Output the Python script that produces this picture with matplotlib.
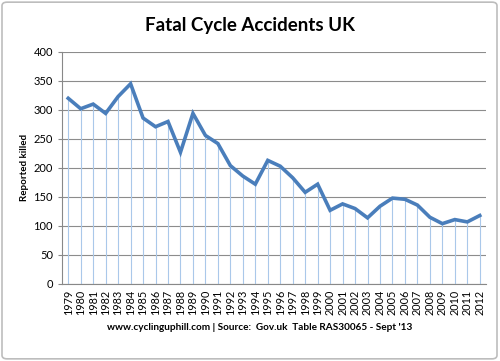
import matplotlib.pyplot as plt
from matplotlib.patches import FancyBboxPatch

years = list(range(1979, 2013))
killed = [320, 302, 310, 294, 323, 345, 286, 271, 280, 227, 294, 256, 242,
          204, 186, 172, 213, 203, 183, 158, 172, 127, 138, 130, 114, 134,
          148, 146, 136, 115, 104, 111, 107, 118]

plt.rcParams['font.family'] = ['Lato', 'DejaVu Sans']

fig = plt.figure(figsize=(5, 3.61), dpi=100)
ax = fig.add_axes([0.124, 0.2133, 0.848, 0.643])

x = list(range(len(years)))
ax.vlines(x, 0, killed, color='#aac8ea', lw=0.8, zorder=1)
ax.plot(x, killed, color='#4a7ebb', lw=2.6, solid_joinstyle='miter', zorder=3)

ax.set_ylim(0, 400)
ax.set_yticks(range(0, 401, 50))
ax.set_xlim(-0.5, 33.5)
ax.set_xticks(x)
ax.set_xticklabels([str(y) for y in years], rotation=90, fontsize=7.8)
ax.tick_params(axis='y', labelsize=8, length=3, color='#888888')
ax.tick_params(axis='x', length=0, pad=4)
ax.yaxis.grid(True, color='#8c8c8c', lw=0.8)
ax.set_axisbelow(True)
for s in ['top', 'right']:
    ax.spines[s].set_visible(False)
ax.spines['left'].set_color('#888888')
ax.spines['bottom'].set_color('#888888')

ax.set_ylabel('Reported killed', fontsize=7, fontweight='bold', labelpad=3)
fig.text(0.5, 0.93, 'Fatal Cycle Accidents UK', ha='center', va='center',
         fontsize=13.5, fontweight='bold')
fig.text(0.52, 0.092, "www.cyclinguphill.com | Source:  Gov.uk  Table RAS30065 - Sept '13",
         ha='center', va='center', fontsize=7.2, fontweight='bold')

border = FancyBboxPatch((0.004, 0.006), 0.99, 0.988, boxstyle='round,pad=0,rounding_size=0.01',
                        transform=fig.transFigure, fill=False, ec='#bdbdbd', lw=1.2)
fig.patches.append(border)

fig.savefig('out.png', dpi=100)
